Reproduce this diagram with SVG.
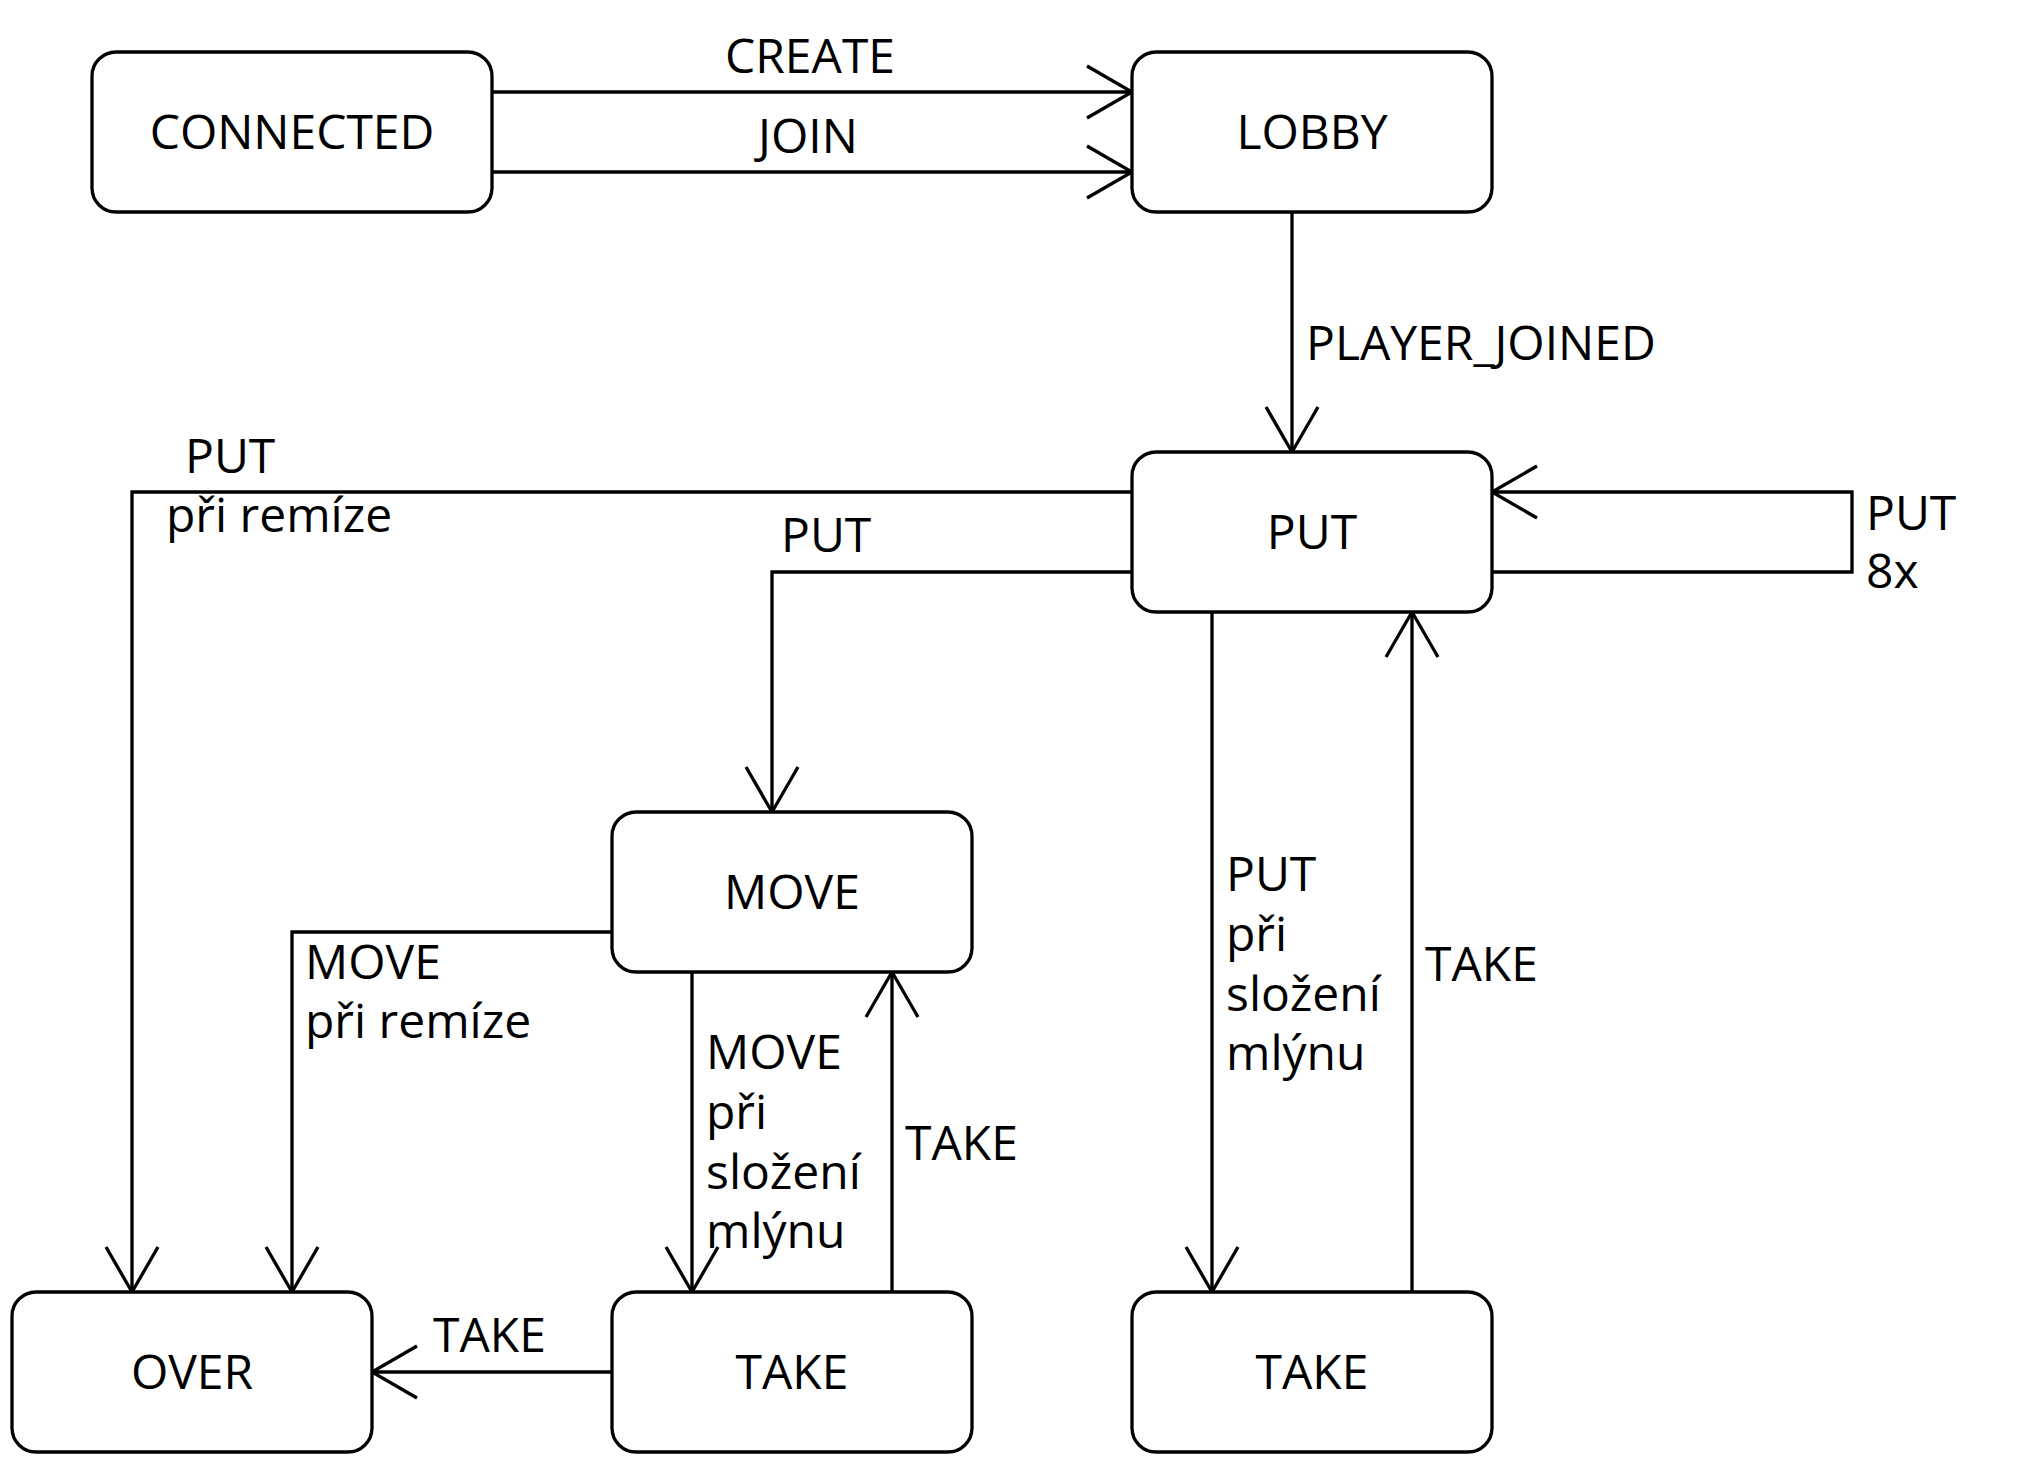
<svg xmlns="http://www.w3.org/2000/svg" width="2020" height="1460" viewBox="0 0 2020 1460">
<defs>
<style>
.box{fill:#fff;stroke:#000;stroke-width:3.3}
.lbl{font-family:"Open Sans","Noto Sans","Liberation Sans",sans-serif;font-size:48px;fill:#000}
.c{text-anchor:middle}
.edge{fill:none;stroke:#000;stroke-width:3.3;marker-end:url(#arr)}
</style>
<marker id="arr" markerUnits="userSpaceOnUse" viewBox="-50 -30 54 60" markerWidth="54" markerHeight="60" refX="0" refY="0" orient="auto">
<path d="M-45,-26 L0,0 L-45,26" fill="none" stroke="#000" stroke-width="3.3"/>
</marker>
</defs>
<rect width="2020" height="1460" fill="#fff"/>
<g id="connectors">
<path class="edge" d="M492,92 H1132"/>
<path class="edge" d="M492,172 H1132"/>
<path class="edge" d="M1292,212 V452"/>
<path class="edge" d="M1492,572 H1852 V492 H1492"/>
<path class="edge" d="M1132,492 H132 V1292"/>
<path class="edge" d="M1132,572 H772 V812"/>
<path class="edge" d="M1212,612 V1292"/>
<path class="edge" d="M1412,1292 V612"/>
<path class="edge" d="M612,932 H292 V1292"/>
<path class="edge" d="M692,972 V1292"/>
<path class="edge" d="M892,1292 V972"/>
<path class="edge" d="M612,1372 H372"/>
<text class="lbl c" x="810" y="73">CREATE</text>
<text class="lbl c" x="808" y="153">JOIN</text>
<text class="lbl" x="1306" y="360">PLAYER_JOINED</text>
<text class="lbl" x="1866" y="530">PUT</text>
<text class="lbl" x="1866" y="588">8x</text>
<text class="lbl" x="185" y="473">PUT</text>
<text class="lbl" x="166" y="532">při remíze</text>
<text class="lbl" x="781" y="552">PUT</text>
<text class="lbl" x="305" y="979">MOVE</text>
<text class="lbl" x="305" y="1038">při remíze</text>
<text class="lbl" x="706" y="1069">MOVE</text>
<text class="lbl" x="706" y="1129">při</text>
<text class="lbl" x="706" y="1189">složení</text>
<text class="lbl" x="706" y="1248">mlýnu</text>
<text class="lbl" x="905" y="1160">TAKE</text>
<text class="lbl" x="433" y="1352">TAKE</text>
<text class="lbl" x="1226" y="891">PUT</text>
<text class="lbl" x="1226" y="951">při</text>
<text class="lbl" x="1226" y="1011">složení</text>
<text class="lbl" x="1226" y="1070">mlýnu</text>
<text class="lbl" x="1425" y="981">TAKE</text>
</g>
<g id="connected"><rect class="box" x="92" y="52" width="400" height="160" rx="24"/><text class="lbl c" x="292" y="149">CONNECTED</text></g>
<g id="lobby"><rect class="box" x="1132" y="52" width="360" height="160" rx="24"/><text class="lbl c" x="1312" y="149">LOBBY</text></g>
<g id="put"><rect class="box" x="1132" y="452" width="360" height="160" rx="24"/><text class="lbl c" x="1312" y="549">PUT</text></g>
<g id="move"><rect class="box" x="612" y="812" width="360" height="160" rx="24"/><text class="lbl c" x="792" y="909">MOVE</text></g>
<g id="over"><rect class="box" x="12" y="1292" width="360" height="160" rx="24"/><text class="lbl c" x="192" y="1389">OVER</text></g>
<g id="take1"><rect class="box" x="612" y="1292" width="360" height="160" rx="24"/><text class="lbl c" x="792" y="1389">TAKE</text></g>
<g id="take2"><rect class="box" x="1132" y="1292" width="360" height="160" rx="24"/><text class="lbl c" x="1312" y="1389">TAKE</text></g>
</svg>
